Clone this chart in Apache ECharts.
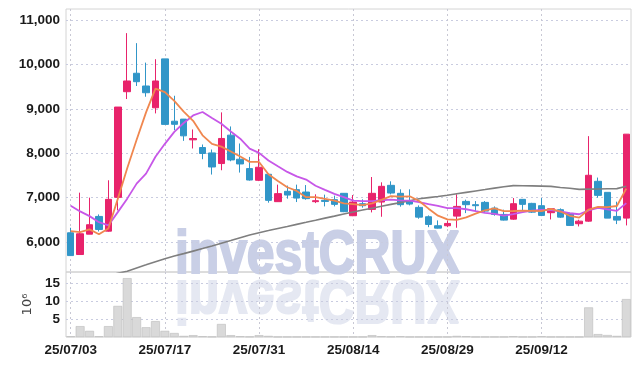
<!DOCTYPE html>
<html>
<head>
<meta charset="utf-8">
<script src="https://cdn.jsdelivr.net/npm/echarts@6/dist/echarts.min.js"></script>
<style>html,body{margin:0;padding:0;background:#fff;}#c{width:639px;height:366px;}</style>
</head>
<body>
<div id="c"></div>
<script>
const dates = ['25/07/03','25/07/04','25/07/07','25/07/08','25/07/09','25/07/10','25/07/11','25/07/14','25/07/15','25/07/16',
'25/07/17','25/07/18','25/07/21','25/07/22','25/07/23','25/07/24','25/07/25','25/07/28','25/07/29','25/07/30',
'25/07/31','25/08/01','25/08/04','25/08/05','25/08/06','25/08/07','25/08/08','25/08/11','25/08/12','25/08/13',
'25/08/14','25/08/18','25/08/19','25/08/20','25/08/21','25/08/22','25/08/25','25/08/26','25/08/27','25/08/28',
'25/08/29','25/09/01','25/09/02','25/09/03','25/09/04','25/09/05','25/09/08','25/09/09','25/09/10','25/09/11',
'25/09/12','25/09/15','25/09/16','25/09/17','25/09/18','25/09/19','25/09/22','25/09/23','25/09/24','25/09/25'];

// [open, close, low, high]
const ohlc = [
[6204,5690,5690,6317],[5714,6182,5714,7109],[6173,6386,6173,6996],[6573,6279,6234,6618],[6241,6958,6230,7388],
[7003,9039,6709,9040],[9385,9627,9220,10706],[9801,9611,9514,10480],[9514,9362,9272,10041],[9023,9627,8896,10118],
[10125,8648,8648,10125],[8720,8650,8519,9294],[8767,8390,8277,8770],[8300,8330,8105,8534],[8127,7992,7863,8195],
[8005,7688,7517,8082],[7765,8331,7614,8919],[8406,7847,7817,8602],[7863,7756,7562,8218],[7652,7394,7380,7915],
[7388,7682,7370,8089],[7523,6935,6883,7530],[6906,7087,6900,7290],[7139,7055,6974,7268],[7177,6987,6897,7290],
[7123,6974,6950,7280],[6906,6928,6874,7071],[6935,6912,6799,7064],[6951,6845,6799,7042],[7094,6680,6670,7100],
[6589,6897,6580,7055],[6860,6815,6770,6958],[6732,7094,6664,7462],[6897,7252,6566,7342],[7274,7100,7070,7365],
[7094,6838,6793,7184],[6919,6852,6822,7184],[6777,6557,6521,6822],[6566,6392,6331,6596],[6363,6309,6300,6483],
[6363,6415,6331,6476],[6580,6799,6318,7071],[6912,6838,6648,6951],[6838,6815,6693,6919],[6890,6693,6664,6919],
[6761,6618,6589,6799],[6618,6490,6480,6725],[6512,6860,6498,6987],[6958,6845,6709,6960],[6867,6670,6650,6880],
[6815,6596,6580,6987],[6657,6747,6505,6760],[6725,6557,6540,6754],[6641,6370,6360,6657],[6408,6467,6347,6499],
[6467,7501,6453,8383],[7365,7048,6996,7449],[7116,6535,6535,7116],[6573,6490,6400,6906],[6535,8428,6370,8430]
];

const ma5 = [6240,6220,6280,6170,6299,6969,7658,8303,8919,9453,9375,9180,8935,8729,8402,8210,8146,8038,7923,7803,
7802,7523,7371,7231,7149,7008,7006,6971,6929,6868,6852,6830,6866,6948,7032,7020,7027,6920,6748,6590,
6505,6494,6551,6635,6712,6753,6691,6695,6701,6697,6692,6744,6683,6588,6547,6728,6789,6784,6808,7200];

const ma10 = [6815,6686,6580,6444,6370,6670,6974,7313,7539,7920,8210,8480,8680,8850,8928,8793,8663,8487,8326,8103,
8006,7835,7704,7577,7476,7405,7265,7171,7080,7009,6930,6918,6919,6938,6950,6936,6929,6893,6848,6811,
6762,6761,6735,6692,6651,6629,6593,6623,6668,6704,6722,6717,6689,6645,6622,6710,6766,6734,6698,6874];

const maLong = [5000,5060,5120,5180,5240,5290,5338,5410,5481,5553,5621,5680,5734,5791,5849,5908,5969,6030,6094,6155,
6207,6254,6302,6347,6394,6440,6487,6535,6580,6628,6673,6716,6759,6802,6845,6885,6928,6971,6996,7021,
7051,7084,7116,7148,7179,7211,7243,7268,7266,7261,7256,7250,7227,7207,7184,7189,7193,7198,7200,7252];

// volume in millions (10^6)
const volume = [0.2,3.0,1.7,0.2,3.0,8.6,16.3,5.5,2.7,4.4,1.7,1.1,0.3,0.5,0.2,0.1,3.6,0.5,0.2,0.1,
0.5,0.3,0.05,0.05,0.05,0.05,0.05,0.05,0.05,0.05,0.05,0.05,0.5,0.2,0.1,0.2,0.05,0.05,0.05,0.05,
0.05,0.3,0.2,0.05,0.05,0.05,0.05,0.2,0.05,0.05,0.2,0.05,0.05,0.05,0.05,8.2,0.8,0.55,0.3,10.5];

const priceTicks = [6000,7000,8000,9000,10000,11000];
const volTicks = [5,10,15];

const labelFont = "'Liberation Sans',Arial,sans-serif";
const chart = echarts.init(document.getElementById('c'), null, {renderer:'canvas'});
const everyTen = (i) => i % 10 === 0;
const wmFont = "bold 61px 'Liberation Sans', sans-serif";

chart.setOption({
  animation: false,
  backgroundColor: '#fff',
  graphic: [
    {type:'text', x:175, y:287, scaleX:0.815, z:0, silent:true,
     style:{text:'investCRUX', font:wmFont, fill:'#c9cfe6', stroke:'#c9cfe6', lineWidth:2.2, verticalAlign:'bottom', align:'left'}},
    {type:'text', x:175, y:267, scaleX:0.815, scaleY:-1, z:0, silent:true,
     style:{text:'investCRUX', font:wmFont, fill:'#e5e8f2', stroke:'#e5e8f2', lineWidth:2.2, verticalAlign:'bottom', align:'left'}}
  ],
  grid: [
    {left:66, right:8, top:9, height:263, show:true, borderColor:'#d4d4d4', borderWidth:1, backgroundColor:'transparent'},
    {left:66, right:8, top:272, height:65, show:true, borderColor:'#d0d0d0', borderWidth:1, backgroundColor:'transparent'}
  ],
  xAxis: [
    {type:'category', gridIndex:0, data:dates, boundaryGap:true,
     axisLine:{show:false}, axisTick:{show:false}, axisLabel:{show:false},
     splitLine:{show:true, interval:everyTen, alignWithLabel:true, lineStyle:{color:'#c8c8d4', type:[2,3], width:1}}},
    {type:'category', gridIndex:1, data:dates, boundaryGap:true,
     axisLine:{show:false}, axisTick:{show:false},
     axisLabel:{show:true, interval:everyTen, margin:6, color:'#1a1a1a', fontSize:13.5, fontWeight:'bold', fontFamily:labelFont},
     splitLine:{show:true, interval:everyTen, alignWithLabel:true, lineStyle:{color:'#c8c8d4', type:[2,3], width:1}}}
  ],
  yAxis: [
    {type:'value', gridIndex:0, min:5320, max:11250, scale:true,
     axisLine:{show:false}, axisTick:{show:false},
     axisLabel:{margin:6, color:'#1a1a1a', fontSize:13.5, fontWeight:'bold', fontFamily:labelFont,
       showMinLabel:false, showMaxLabel:false,
       formatter:(v)=> priceTicks.indexOf(v) >= 0 ? v.toLocaleString('en-US') : ''},
     splitLine:{show:true, showMinLine:false, showMaxLine:false, lineStyle:{color:'#c9cce0', type:[2,3], width:1}}},
    {type:'value', gridIndex:1, min:0, max:18, interval:5,
     name:'10\u2076', nameLocation:'middle', nameRotate:90, nameGap:23,
     nameTextStyle:{color:'#444', fontSize:13, fontFamily:"'DejaVu Sans',sans-serif"},
     axisLine:{show:false}, axisTick:{show:false},
     axisLabel:{margin:6, color:'#1a1a1a', fontSize:13.5, fontWeight:'bold', fontFamily:labelFont,
       showMinLabel:false, showMaxLabel:false,
       formatter:(v)=> volTicks.indexOf(v) >= 0 ? String(v) : ''},
     splitLine:{show:true, showMinLine:false, showMaxLine:false, lineStyle:{color:'#c9cce0', type:[2,3], width:1}}}
  ],
  series: [
    {type:'candlestick', xAxisIndex:0, yAxisIndex:0, data:ohlc, barWidth:7, z:3,
     itemStyle:{color:'#e8236b', color0:'#3196c8', borderColor:'#e8236b', borderColor0:'#3196c8', borderWidth:1}},
    {type:'line', xAxisIndex:0, yAxisIndex:0, data:maLong, showSymbol:false, symbol:'none', clip:true, z:4,
     lineStyle:{color:'#7f7f7f', width:1.6}},
    {type:'line', xAxisIndex:0, yAxisIndex:0, data:ma10, showSymbol:false, symbol:'none', clip:true, z:4,
     lineStyle:{color:'#c757e8', width:1.8}},
    {type:'line', xAxisIndex:0, yAxisIndex:0, data:ma5, showSymbol:false, symbol:'none', clip:true, z:5,
     lineStyle:{color:'#f0874f', width:1.8}},
    {type:'bar', xAxisIndex:1, yAxisIndex:1, data:volume, barCategoryGap:'6%', z:3,
     itemStyle:{color:'#d9d9d9', borderColor:'#bcbcbc', borderWidth:0.6}}
  ]
});
</script>
</body>
</html>
